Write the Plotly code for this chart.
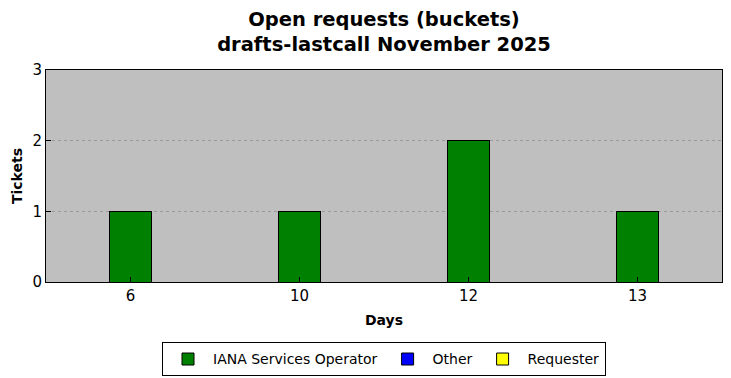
import plotly.graph_objects as go

days = ["6", "10", "12", "13"]
iana = [1, 1, 2, 1]
other = [0, 0, 0, 0]
requester = [0, 0, 0, 0]
yticks = [0, 1, 2, 3]

fig = go.Figure()
for name, vals, col in [("IANA Services Operator", iana, "#008000"),
                        ("Other", other, "#0000ff"),
                        ("Requester", requester, "#ffff00")]:
    fig.add_trace(go.Bar(x=days, y=vals, name=name, width=0.25,
                         marker=dict(color=col, line=dict(color="black", width=1))))

font = "DejaVu Sans"
fig.update_layout(
    barmode="stack",
    width=731, height=378,
    margin=dict(l=46, r=9, t=70, b=96, autoexpand=False),
    paper_bgcolor="white", plot_bgcolor="#bfbfbf",
    font=dict(family=font, color="black", size=15),
    title=dict(text="<b>Open requests (buckets)<br>drafts-lastcall November 2025</b>",
               x=0.5, xref="paper", xanchor="center", y=0.931, yref="container",
               yanchor="middle", pad=dict(t=0, b=0),
               font=dict(size=19.5, family=font)),
    legend=dict(orientation="h", x=0.5, xanchor="center", y=-0.285, yanchor="top",
                bordercolor="black", borderwidth=1, font=dict(size=14),
                traceorder="normal", itemwidth=40),
    showlegend=True,
)
fig.update_xaxes(
    type="category", categoryorder="array", categoryarray=days, range=[-0.5, 3.5],
    showline=True, linecolor="black", linewidth=1, mirror=True,
    ticks="inside", ticklen=5, tickcolor="black", showgrid=False, automargin=True,
    title=dict(text="<b>Days</b>", font=dict(size=14), standoff=11),
)
fig.update_yaxes(
    range=[0, 3], tickvals=yticks, ticktext=[str(v) for v in yticks],
    showline=True, linecolor="black", linewidth=1, mirror=True,
    ticks="inside", ticklen=5, tickcolor="black", automargin=True,
    showgrid=True, gridcolor="#999999", griddash="dot", gridwidth=1,
    zeroline=False,
    title=dict(text="<b>Tickets</b>", font=dict(size=14), standoff=6),
)
fig.write_html("out.html", config={"responsive": False, "displayModeBar": False},
               post_script="document.body.style.margin='0';document.body.style.overflow='hidden';")
